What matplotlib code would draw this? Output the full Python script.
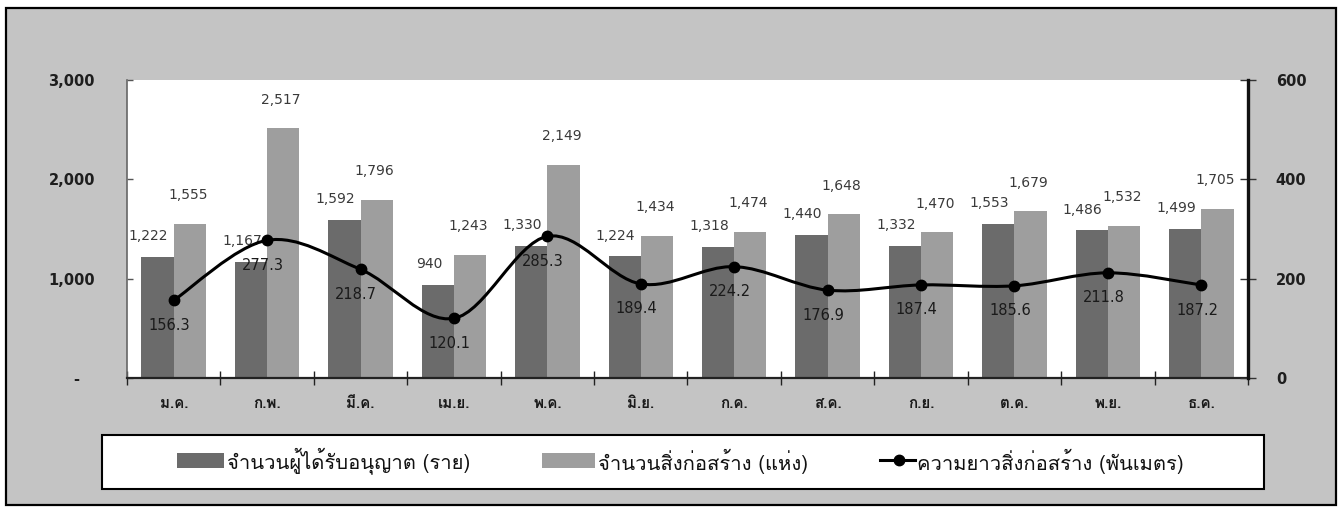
import numpy as np
import matplotlib
matplotlib.use("Agg")
import matplotlib.pyplot as plt
from matplotlib.patches import Rectangle, PathPatch
from matplotlib.path import Path
from matplotlib.lines import Line2D

# ---------------- data ----------------
months = ["ม.ค.", "ก.พ.", "มี.ค.", "เม.ย.", "พ.ค.", "มิ.ย.",
          "ก.ค.", "ส.ค.", "ก.ย.", "ต.ค.", "พ.ย.", "ธ.ค."]
permits = [1222, 1167, 1592, 940, 1330, 1224, 1318, 1440, 1332, 1553, 1486, 1499]
structures = [1555, 2517, 1796, 1243, 2149, 1434, 1474, 1648, 1470, 1679, 1532, 1705]
length_km = [156.3, 277.3, 218.7, 120.1, 285.3, 189.4, 224.2, 176.9, 187.4, 185.6, 211.8, 187.2]

series_names = ["จำนวนผู้ได้รับอนุญาต (ราย)", "จำนวนสิ่งก่อสร้าง (แห่ง)",
                "ความยาวสิ่งก่อสร้าง (พันเมตร)"]
left_ticks = [0, 1000, 2000, 3000]
left_ticklabels = ["-   ", "1,000", "2,000", "3,000"]
right_ticks = [0, 200, 400, 600]
right_ticklabels = ["0", "200", "400", "600"]

# ---------------- style ----------------
W, H = 1341, 509
DARK = "#6b6b6b"
LIGHT = "#9e9e9e"
BG = "#c4c4c4"
THAI = ["Loma", "DejaVu Sans"]
NUM = ["DejaVu Sans"]

def fx(x):
    return x / W

def fy(y):
    return 1 - y / H

fig = plt.figure(figsize=(W / 100, H / 100), dpi=100)
fig.patch.set_facecolor("white")

# outer textured panel
fig.add_artist(Rectangle((fx(6), fy(505)), fx(1336) - fx(6), fy(8) - fy(505),
                         transform=fig.transFigure, facecolor=BG,
                         edgecolor="black", linewidth=1.6, zorder=-5))

# axes
L, R, T, B = 127, 1248, 80, 378
ax = fig.add_axes([fx(L), fy(B), fx(R) - fx(L), fy(T) - fy(B)])
ax.set_facecolor("white")
x = np.arange(len(months))
bw = 0.345

ax.bar(x - bw, permits, width=bw, align="edge", color=DARK, zorder=2)
ax.bar(x, structures, width=bw, align="edge", color=LIGHT, zorder=2)

ax.set_xlim(-0.5, len(months) - 0.5)
ax.set_ylim(0, 3000)

# bar value labels
for xi, v in zip(x, permits):
    ax.annotate(f"{v:,}", (xi - bw / 2, v), xytext=(-6.5, 15),
                textcoords="offset points", ha="center", va="center",
                fontsize=10, family=NUM, color="#3a3a3a", zorder=4)
for xi, v in zip(x, structures):
    ax.annotate(f"{v:,}", (xi + bw / 2, v), xytext=(-1.5, 20.5),
                textcoords="offset points", ha="center", va="center",
                fontsize=10, family=NUM, color="#3a3a3a", zorder=4)

# x axis
ax.set_xticks(x)
ax.set_xticklabels(months, family=THAI, fontsize=11, fontweight="bold",
                   color="#1a1a1a")
ax.tick_params(axis="x", which="major", length=0, pad=14)
ax.set_xticks(np.arange(len(months) + 1) - 0.5, minor=True)
ax.tick_params(axis="x", which="minor", direction="inout", length=10,
               width=1, color="#222222")

# left y axis
ax.set_yticks(left_ticks)
ax.set_yticklabels(left_ticklabels, family=NUM, fontsize=10.5,
                   fontweight="bold", color="#1e1e1e")
ax.tick_params(axis="y", direction="in", length=4.5, width=1,
               color="#555555", pad=23)

for s in ["top", "right"]:
    ax.spines[s].set_visible(False)
ax.spines["left"].set_color("#666666")
ax.spines["left"].set_linewidth(1.2)
ax.spines["bottom"].set_color("#222222")
ax.spines["bottom"].set_linewidth(1.6)

# right axis + smoothed line
ax2 = ax.twinx()
ax2.set_ylim(0, 600)
ax2.set_yticks(right_ticks)
ax2.set_yticklabels(right_ticklabels, family=NUM, fontsize=10.5,
                    fontweight="bold", color="#1e1e1e")
ax2.tick_params(axis="y", direction="inout", length=11, width=1,
                color="#333333", pad=14.5)
for s in ["top", "left", "bottom"]:
    ax2.spines[s].set_visible(False)
ax2.spines["right"].set_color("#111111")
ax2.spines["right"].set_linewidth(2.4)

P = np.column_stack([x.astype(float), np.asarray(length_km, float)])
n = len(P)
verts = [P[0]]
codes = [Path.MOVETO]
for i in range(n - 1):
    p0 = P[i - 1] if i > 0 else P[i]
    p1, p2 = P[i], P[i + 1]
    p3 = P[i + 2] if i + 2 < n else P[i + 1]
    verts += [p1 + (p2 - p0) / 6.0, p2 - (p3 - p1) / 6.0, p2]
    codes += [Path.CURVE4] * 3
ax2.add_patch(PathPatch(Path(verts, codes), fill=False, edgecolor="black",
                        linewidth=2.2, zorder=3))
ax2.plot(x, length_km, linestyle="none", marker="o", markersize=7.5,
         color="black", zorder=4)
for xi, v in zip(x, length_km):
    ax2.annotate(f"{v:.1f}", (xi, v), xytext=(-3, -18),
                 textcoords="offset points", ha="center", va="center",
                 fontsize=10.5, family=NUM, color="#1a1a1a", zorder=5)

# legend box (drawn manually to match layout)
fig.add_artist(Rectangle((fx(102), fy(489)), fx(1264) - fx(102), fy(435) - fy(489),
                         transform=fig.transFigure, facecolor="white",
                         edgecolor="black", linewidth=1.5, zorder=1))
ly = 461
fig.add_artist(Rectangle((fx(177), fy(468)), fx(224) - fx(177), fy(453) - fy(468),
                         transform=fig.transFigure, facecolor=DARK,
                         edgecolor="none", zorder=2))
fig.text(fx(227), fy(ly), series_names[0], family=THAI, fontsize=14.5,
         ha="left", va="center", color="#111111", zorder=3)
fig.add_artist(Rectangle((fx(542), fy(468)), fx(595) - fx(542), fy(453) - fy(468),
                         transform=fig.transFigure, facecolor=LIGHT,
                         edgecolor="none", zorder=2))
fig.text(fx(598), fy(ly), series_names[1], family=THAI, fontsize=14.5,
         ha="left", va="center", color="#111111", zorder=3)
fig.add_artist(Line2D([fx(880), fx(915)], [fy(460), fy(460)],
                      transform=fig.transFigure, color="black", linewidth=2.2,
                      zorder=2))
fig.add_artist(Line2D([fx(899)], [fy(460)], transform=fig.transFigure,
                      color="black", marker="o", markersize=7.5,
                      linestyle="none", zorder=3))
fig.text(fx(917), fy(ly), series_names[2], family=THAI, fontsize=14.5,
         ha="left", va="center", color="#111111", zorder=3)

fig.savefig("out.png", dpi=100, facecolor=fig.get_facecolor())
